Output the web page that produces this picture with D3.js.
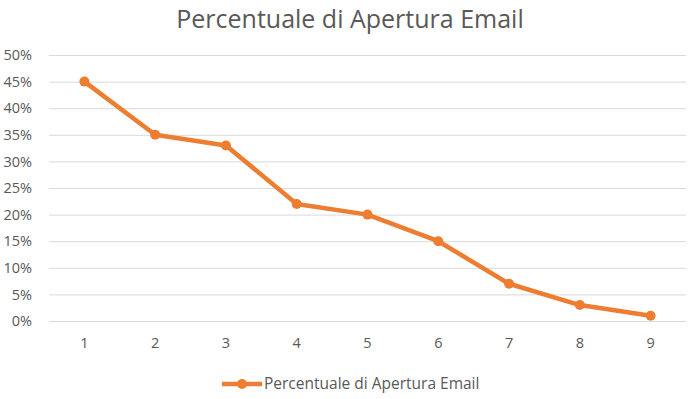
<!DOCTYPE html>
<html>
<head>
<meta charset="utf-8">
<script src="https://cdn.jsdelivr.net/npm/d3@7"></script>
<style>
  body { margin: 0; background: #fff; }
  text { font-family: "Open Sans", "Liberation Sans", sans-serif; fill: #595959; }
</style>
</head>
<body>
<div id="chart"></div>
<script>
let categories = ["1", "2", "3", "4", "5", "6", "7", "8", "9"];
let values = [45, 35, 33, 22, 20, 15, 7, 3, 1];
let yTicks = [0, 5, 10, 15, 20, 25, 30, 35, 40, 45, 50];
let seriesName = "Percentuale di Apertura Email";

let W = 694, H = 399;
let margin = { top: 55, right: 8, bottom: 78, left: 49 },
  width = W - margin.left - margin.right,
  height = H - margin.top - margin.bottom;

let svg = d3.select("#chart")
  .append("svg")
  .attr("width", W)
  .attr("height", H);

svg.append("text")
  .attr("x", 350)
  .attr("y", 28)
  .attr("text-anchor", "middle")
  .style("font-size", "25px")
  .text(seriesName);

let g = svg.append("g")
  .attr("transform", "translate(" + margin.left + "," + margin.top + ")");

let x = d3.scaleBand()
  .domain(categories)
  .range([0, width]);

let y = d3.scaleLinear()
  .domain([0, 50])
  .range([height, 0]);

// gridlines + y labels
let yAxis = g.append("g")
  .call(d3.axisLeft(y)
    .tickValues(yTicks)
    .tickSize(-width)
    .tickPadding(17)
    .tickFormat(d => d + "%"));
yAxis.select(".domain").remove();
yAxis.selectAll("line").attr("stroke", "#d9d9d9").attr("stroke-width", 1);
yAxis.selectAll("text").style("font-size", "14.5px").style("fill", "#595959");

let xAxis = g.append("g")
  .attr("transform", "translate(0," + height + ")")
  .call(d3.axisBottom(x).tickSize(0).tickPadding(17));
xAxis.select(".domain").remove();
xAxis.selectAll("text").style("font-size", "14.5px").style("fill", "#595959");

let line = d3.line()
  .x((d, i) => x(categories[i]) + x.bandwidth() / 2)
  .y(d => y(d));

g.append("path")
  .datum(values)
  .attr("d", line)
  .attr("stroke", "#ED7D31")
  .attr("stroke-width", 4.5)
  .attr("stroke-linejoin", "round")
  .style("fill", "none");

g.selectAll(".dot")
  .data(values)
  .enter()
  .append("circle")
  .attr("class", "dot")
  .attr("cx", (d, i) => x(categories[i]) + x.bandwidth() / 2)
  .attr("cy", d => y(d))
  .attr("r", 5)
  .style("fill", "#ED7D31");

// legend
let legend = svg.append("g")
  .attr("transform", "translate(222,384)");
legend.append("line")
  .attr("x1", 0).attr("x2", 40)
  .attr("y1", 0).attr("y2", 0)
  .attr("stroke", "#ED7D31")
  .attr("stroke-width", 4.5);
legend.append("circle")
  .attr("cx", 20).attr("cy", 0).attr("r", 5)
  .style("fill", "#ED7D31");
legend.append("text")
  .attr("x", 42)
  .attr("y", 5)
  .style("font-size", "15.5px")
  .text(seriesName);
</script>
</body>
</html>
